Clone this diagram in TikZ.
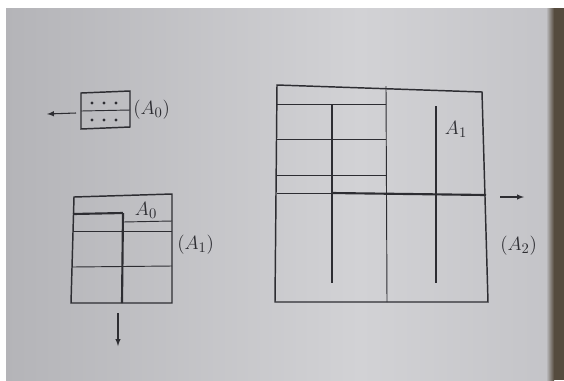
\documentclass[tikz,border=0pt]{standalone}
\usepackage{tikz}
\usetikzlibrary{calc}
\usepackage{xcolor}
\definecolor{pagegray}{RGB}{196,196,200}
\definecolor{pagelight}{RGB}{210,210,213}
\definecolor{pagedark}{RGB}{180,180,184}
\definecolor{inkdark}{RGB}{45,45,50}
\definecolor{spine}{RGB}{85,75,62}

\begin{document}
\begin{tikzpicture}[x=0.75pt,y=-0.75pt,
  frame/.style={inkdark,line width=1.1pt},
  rule/.style={inkdark,line width=0.7pt},
  bold/.style={inkdark,line width=1.6pt},
  pointer/.style={inkdark,line width=0.8pt,-latex},
  lbl/.style={text=inkdark,font=\fontsize{15}{17}\selectfont,inner sep=0pt}]

  % ── PAGE (photo background) ────────────────────────────────────────────────
  \fill[white] (0,0) rectangle (564,380);
  \shade[left color=pagedark,right color=pagelight] (6,8) rectangle (360,380);
  \shade[left color=pagelight,right color=pagegray] (360,8) rectangle (546,380);
  \shade[left color=pagegray,right color=spine] (546,8) rectangle (554,380);
  \fill[spine] (554,8) rectangle (564,380);
  \useasboundingbox (0,0) rectangle (564,380);

  % ── (A_0) : small block with dots ──────────────────────────────────────────
  \draw[frame] (81,93) -- (130,91) -- (130,127) -- (81,129) -- cycle;
  \draw[rule] (81,111) -- (130,110);
  \foreach \x in {92,104,116}{
    \fill[inkdark] (\x,103) circle (1.7);
    \fill[inkdark] (\x,120) circle (1.7);
  }
  \coordinate (azeroL) at (76,113);
  \coordinate (azeroTip) at (47,114);
  \draw[pointer] (azeroL) -- (azeroTip);
  \node[lbl,anchor=west] (azero) at (133,110) {$(A_0)$};

  % ── (A_1) : middle grid ────────────────────────────────────────────────────
  \draw[frame] (74,197) -- (172,194) -- (172,303) -- (71,303) -- cycle;
  \draw[bold] (73,214) -- (123,213);
  \draw[rule] (123,222) -- (172,221);
  \draw[rule] (73,231) -- (172,231);
  \draw[rule] (72,267) -- (172,266);
  \draw[bold] (123,213) -- (122,303);
  \node[lbl] (aonein) at (146,210) {$A_0$};
  \node[lbl,anchor=west] (aone) at (177,245) {$(A_1)$};
  \coordinate (aoneB) at (118,313);
  \coordinate (aoneTip) at (118,346);
  \draw[pointer] (aoneB) -- (aoneTip);

  % ── (A_2) : big grid ───────────────────────────────────────────────────────
  \draw[frame] (277,85) -- (482,92) -- (488,302) -- (275,302) -- cycle;
  \draw[rule] (386,86) -- (387,302);
  \draw[rule] (277,104) -- (386,104);
  \draw[rule] (277,139) -- (386,139);
  \draw[rule] (277,175) -- (386,175);
  \draw[rule] (277,193) -- (332,193);
  \draw[bold] (332,193) -- (486,195);
  \draw[bold] (332,104) -- (332,283);
  \draw[bold] (436,106) -- (436,283);
  \node[lbl] (atwoin) at (456,129) {$A_1$};
  \node[lbl,anchor=west] (atwo) at (500,246) {$(A_2)$};
  \coordinate (atwoR) at (500,197);
  \coordinate (atwoTip) at (524,197);
  \draw[pointer] (atwoR) -- (atwoTip);

\end{tikzpicture}
\end{document}
